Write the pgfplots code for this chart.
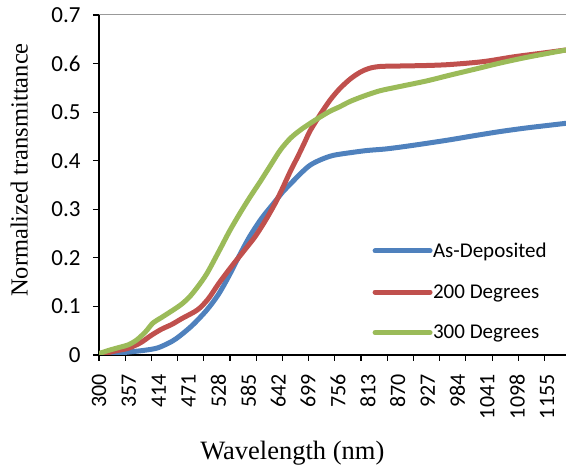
\documentclass[border=0pt]{standalone}
\usepackage{fontspec}
\setmainfont{Liberation Serif}
\newfontfamily\calibri{Carlito}
\usepackage{pgfplots}
\pgfplotsset{compat=1.18}
\definecolor{cblue}{HTML}{4F81BD}
\definecolor{cred}{HTML}{C0504D}
\definecolor{cgreen}{HTML}{9BBB59}
\begin{document}
\begin{tikzpicture}
\begin{axis}[
  at={(99bp,121bp)}, anchor=south west,
  scale only axis, width=467bp, height=340bp,
  xmin=300, xmax=1191, ymin=0, ymax=0.7,
  axis x line*=bottom, axis y line*=left,
  axis line style={line width=1.5bp, black, -},
  tick align=outside,
  major tick length=6bp,
  minor tick length=6bp,
  tick style={line width=1.2bp, black},
  xtick={300,357,414,471,528,585,642,699,756,813,870,927,984,1041,1098,1155},
  xticklabels={300,357,414,471,528,585,642,699,756,813,870,927,984,1041,1098,1155},
  minor xtick={300,350,...,1150},
  every major x tick/.append style={draw=none},
  xticklabel style={rotate=90, anchor=east, font=\calibri\fontsize{22bp}{26bp}\selectfont, xshift=-10bp},
  ytick={0,0.1,...,0.7},
  /pgf/number format/assume math mode=true,
  yticklabel style={font=\calibri\fontsize{23bp}{27bp}\selectfont, /pgf/number format/fixed, xshift=-9bp},
  xlabel={Wavelength (nm)},
  ylabel={Normalized transmittance},
  xlabel style={at={(axis description cs:0.414,-0.288)}, anchor=center, font=\fontsize{26.5bp}{30bp}\selectfont},
  ylabel style={at={(axis description cs:-0.171,0.544)}, anchor=center, font=\fontsize{24.5bp}{28bp}\selectfont},
  legend style={at={(axis description cs:0.579,0.342)}, anchor=north west, draw=none, fill=none,
    font=\calibri\fontsize{21bp}{25bp}\selectfont, row sep=21.5bp, nodes={inner xsep=0.5bp, inner ysep=2bp}},
  legend cell align=left,
  legend image code/.code={\draw[#1, line cap=round] (0bp,0bp) -- (55bp,0bp);},
  every axis plot/.append style={line width=5bp, line join=round, line cap=round, smooth, tension=0.5},
]
\draw[gray!80, line width=1bp] (rel axis cs:0,1) -- (rel axis cs:1,1);
\addplot[cblue] coordinates {
(300,0.000) (330,0.003) (356,0.006) (389,0.010) (413,0.015) (439,0.028) (455,0.040) (479,0.062)
(506,0.093) (528,0.125) (547,0.161) (567,0.203) (587,0.243) (610,0.281) (633,0.312) (650,0.335)
(666,0.353) (685,0.374) (703,0.391) (725,0.403) (747,0.411) (776,0.416) (811,0.421) (845,0.424)
(875,0.428) (914,0.434) (969,0.443) (1013,0.451) (1065,0.460) (1112,0.467) (1151,0.472) (1191,0.477)
};
\addlegendentry{As-Deposited}
\addplot[cred] coordinates {
(300,0.000) (330,0.008) (356,0.014) (379,0.025) (399,0.040) (419,0.053) (439,0.063) (458,0.075)
(488,0.093) (508,0.115) (527,0.145) (542,0.167) (557,0.188) (577,0.215) (598,0.244) (617,0.276)
(636,0.312) (650,0.343) (665,0.378) (680,0.410) (692,0.437) (703,0.462) (722,0.495) (741,0.525)
(759,0.548) (779,0.568) (798,0.582) (815,0.590) (836,0.594) (875,0.595) (924,0.596) (969,0.598)
(1033,0.604) (1092,0.614) (1142,0.621) (1191,0.628)
};
\addlegendentry{200 Degrees}
\addplot[cgreen] coordinates {
(300,0.003) (320,0.010) (340,0.016) (356,0.021) (372,0.031) (389,0.048) (403,0.066) (419,0.077)
(442,0.093) (458,0.105) (473,0.120) (488,0.140) (506,0.168) (530,0.216) (549,0.255) (569,0.292)
(588,0.325) (607,0.356) (627,0.390) (646,0.422) (665,0.446) (684,0.463) (703,0.477) (722,0.490)
(741,0.502) (759,0.511) (779,0.522) (805,0.533) (836,0.544) (875,0.553) (924,0.564) (969,0.576)
(1023,0.590) (1065,0.601) (1112,0.612) (1151,0.620) (1191,0.628)
};
\addlegendentry{300 Degrees}
\end{axis}
\pgfresetboundingbox
\path[use as bounding box] (0,0) rectangle (566bp,476bp);
\end{tikzpicture}
\end{document}
